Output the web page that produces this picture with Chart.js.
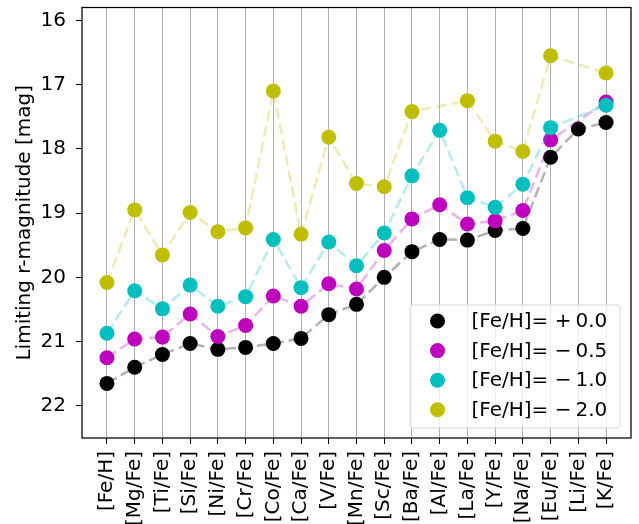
<!DOCTYPE html>
<html>
<head>
<meta charset="utf-8">
<script src="https://cdn.jsdelivr.net/npm/chart.js@4"></script>
<style>
body{margin:0;background:#fff}
</style>
</head>
<body>
<canvas id="limitChart" width="639" height="524"></canvas>
<script>

const categories=["[Fe/H]","[Mg/Fe]","[Ti/Fe]","[Si/Fe]","[Ni/Fe]","[Cr/Fe]","[Co/Fe]","[Ca/Fe]","[V/Fe]","[Mn/Fe]","[Sc/Fe]","[Ba/Fe]","[Al/Fe]","[La/Fe]","[Y/Fe]","[Na/Fe]","[Eu/Fe]","[Li/Fe]","[K/Fe]"]

const fehP00=[21.65,21.40,21.20,21.03,21.12,21.09,21.03,20.95,20.58,20.42,20.00,19.60,19.41,19.42,19.27,19.24,18.13,17.69,17.59]
const fehM05=[21.25,20.96,20.93,20.57,20.92,20.75,20.29,20.45,20.10,20.18,19.58,19.09,18.87,19.17,19.12,18.96,17.86,null,17.27]
const fehM10=[20.87,20.21,20.49,20.12,20.45,20.30,19.41,20.16,19.45,19.82,19.31,18.42,17.71,18.76,18.91,18.55,17.67,null,17.32]
const fehM20=[20.08,18.95,19.65,18.99,19.29,19.23,17.10,19.33,17.82,18.54,18.59,17.42,null,17.25,17.88,18.04,16.55,null,16.82]

const seriesLabels=["[Fe/H]= +\u20090.0","[Fe/H]= \u2212\u20090.5","[Fe/H]= \u2212\u20091.0","[Fe/H]= \u2212\u20092.0"]
const yTicks=[16,17,18,19,20,21,22]

const FONT='"DejaVu Sans"'

function makeSet(label,values,rgb,order){
return{
label:label,
data:values.map((v,i)=>({x:i,y:v})),
borderColor:"rgba("+rgb+",0.3)",
borderWidth:2.5,
borderDash:[11,5],
pointRadius:7.5,
pointHoverRadius:7.5,
pointBorderWidth:0,
pointBackgroundColor:"rgb("+rgb+")",
pointBorderColor:"rgb("+rgb+")",
spanGaps:true,
tension:0,
order:order
}
}

function noPadding(scale){
scale.paddingTop=0
scale.paddingBottom=0
scale.paddingLeft=0
scale.paddingRight=0
}

// axes frame on all four sides
const frame={
id:"frame",
afterDraw(chart){
const {ctx,chartArea:a}=chart
ctx.save()
ctx.strokeStyle="#000"
ctx.lineWidth=1.25
ctx.strokeRect(a.left,a.top,a.right-a.left,a.bottom-a.top)
ctx.restore()
}
}

// legend box in the lower right corner of the plot
const legendBox={
id:"legendBox",
afterDraw(chart){
const {ctx,chartArea:a}=chart
const w=210,h=123
const x=a.right-11-w,y=a.bottom-10-h
ctx.save()
ctx.beginPath()
ctx.roundRect(x,y,w,h,3)
ctx.fillStyle="rgba(255,255,255,0.8)"
ctx.fill()
ctx.strokeStyle="#d6d6d6"
ctx.lineWidth=1
ctx.stroke()
chart.data.datasets.forEach((ds,i)=>{
const cy=y+16+i*29.6
ctx.beginPath()
ctx.arc(x+27.5,cy,7.5,0,Math.PI*2)
ctx.fillStyle=ds.pointBackgroundColor
ctx.fill()
ctx.fillStyle="#000"
ctx.font="20px "+FONT
ctx.textBaseline="middle"
ctx.textAlign="left"
ctx.fillText(ds.label,x+61.5,cy+1)
})
ctx.restore()
}
}

new Chart(document.getElementById("limitChart"),{
type:"line",
data:{
datasets:[
makeSet(seriesLabels[0],fehP00,"0,0,0",4),
makeSet(seriesLabels[1],fehM05,"191,0,191",3),
makeSet(seriesLabels[2],fehM10,"0,191,191",2),
makeSet(seriesLabels[3],fehM20,"191,191,0",1)
]
},
options:{
responsive:false,
animation:false,
devicePixelRatio:1,
layout:{padding:{top:1,right:8,left:0,bottom:0}},
plugins:{legend:{display:false},tooltip:{enabled:false}},
scales:{
x:{
type:"linear",
min:-0.9,
max:18.9,
afterBuildTicks(scale){scale.ticks=categories.map((c,i)=>({value:i}))},
afterFit(scale){scale.height=86;noPadding(scale)},
ticks:{
autoSkip:false,
maxRotation:90,
minRotation:90,
padding:7,
color:"#000",
font:{family:FONT,size:20},
callback:v=>categories[v]
},
grid:{color:"#b0b0b0",lineWidth:1,tickLength:6,tickColor:"#000"},
border:{display:false}
},
y:{
reverse:true,
min:15.8,
max:22.5,
afterBuildTicks(scale){scale.ticks=yTicks.map(v=>({value:v}))},
afterFit(scale){scale.width=82;noPadding(scale)},
ticks:{padding:10,color:"#000",font:{family:FONT,size:20}},
grid:{drawOnChartArea:false,tickLength:6,tickColor:"#000"},
border:{display:false},
title:{
display:true,
text:"Limiting r-magnitude [mag]",
color:"#000",
font:{family:FONT,size:20},
padding:{top:13,bottom:0}
}
}
}
},
plugins:[frame,legendBox]
})

</script>
</body>
</html>
